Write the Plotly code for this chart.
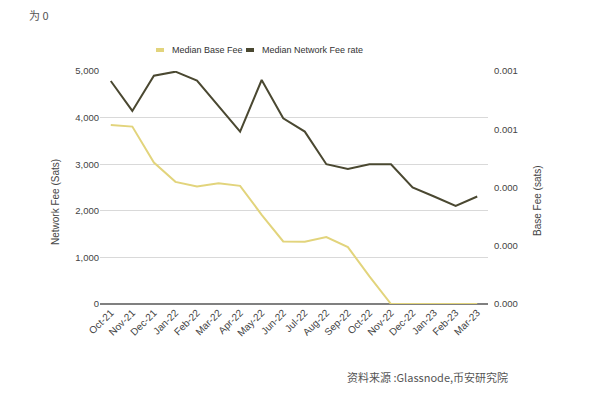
import plotly.graph_objects as go

months = ["Oct-21", "Nov-21", "Dec-21", "Jan-22", "Feb-22", "Mar-22", "Apr-22", "May-22",
          "Jun-22", "Jul-22", "Aug-22", "Sep-22", "Oct-22", "Nov-22", "Dec-22", "Jan-23",
          "Feb-23", "Mar-23"]
median_base_fee = [3843, 3807, 3036, 2621, 2521, 2593, 2536, 1914, 1343, 1336, 1436, 1221,
                   593, 0, 0, 0, 0, 0]
median_network_fee_rate = [4786, 4143, 4900, 4986, 4793, 4236, 3700, 4807, 3986, 3700, 3000,
                           2900, 3000, 3000, 2500, 2307, 2107, 2307]
left_ticks = [0, 1000, 2000, 3000, 4000, 5000]
left_ticktext = ["0", "1,000", "2,000", "3,000", "4,000", "5,000"]
right_ticks = [0, 1, 2, 3, 4]
right_ticktext = ["0.000", "0.000", "0.000", "0.001", "0.001"]
series_names = ["Median Base Fee", "Median Network Fee rate"]

YELLOW = "#e2d47c"
DARK = "#4a4831"
FONT = "Liberation Sans, Arial, sans-serif"

# page body has an 8px default margin, so figure is 592x385 placed at (8, 8)
W, H = 592, 385
L, T = 92, 63
PW, PH = 388, 233
R, B = W - L - PW, H - T - PH


def px(X):
    return (X - 100) / PW


def py(Y):
    return (304 - Y) / PH


fig = go.Figure()
fig.add_trace(go.Scatter(x=months, y=median_base_fee, mode="lines", name=series_names[0],
                         line=dict(color=YELLOW, width=2), showlegend=False))
fig.add_trace(go.Scatter(x=months, y=median_network_fee_rate, mode="lines",
                         name=series_names[1], line=dict(color=DARK, width=2),
                         showlegend=False))
fig.add_trace(go.Scatter(x=months, y=[None] * len(months), yaxis="y2", showlegend=False,
                         hoverinfo="skip"))

fig.update_layout(
    width=W, height=H,
    margin=dict(l=L, r=R, t=T, b=B, autoexpand=False),
    paper_bgcolor="white", plot_bgcolor="white",
    font=dict(family=FONT, size=10, color="#444"),
    showlegend=False,
    xaxis=dict(type="category", range=[-0.5, 17.5], tickangle=-45, showgrid=False,
               ticks="", tickfont=dict(size=10, color="#444"), showline=False,
               automargin=False),
    yaxis=dict(range=[0, 5000], tickvals=left_ticks, ticktext=left_ticktext,
               showgrid=True, gridcolor="#d9d9d9", gridwidth=1, zeroline=True,
               zerolinecolor="#808080", zerolinewidth=1.5, automargin=False,
               tickfont=dict(size=9.5, color="#444")),
    yaxis2=dict(overlaying="y", side="right", range=[0, 4], tickvals=right_ticks,
                ticktext=right_ticktext, showgrid=False, zeroline=False, automargin=False,
                ticklabelstandoff=5, tickfont=dict(size=9.5, color="#444")),
)

# custom legend (short bar + label)
for (x0, x1, tx), name, col in zip([(156, 164, 170), (246, 254, 260)], series_names,
                                   [YELLOW, DARK]):
    fig.add_shape(type="line", xref="paper", yref="paper", x0=px(x0), x1=px(x1),
                  y0=py(50), y1=py(50), line=dict(color=col, width=4))
    fig.add_annotation(text=name, xref="paper", yref="paper", x=px(tx), y=py(50),
                       xanchor="left", yanchor="middle", showarrow=False,
                       font=dict(size=9, color="#333"))

fig.add_annotation(text="Network Fee (Sats)", xref="paper", yref="paper",
                   x=px(55), y=py(202), textangle=-90,
                   xanchor="center", yanchor="middle", showarrow=False,
                   font=dict(size=10, color="#444"))
fig.add_annotation(text="Base Fee (sats)", xref="paper", yref="paper",
                   x=px(537), y=py(201), textangle=-90,
                   xanchor="center", yanchor="middle", showarrow=False,
                   font=dict(size=10, color="#444"))
fig.add_annotation(text="为 0", xref="paper", yref="paper", x=px(27), y=py(15),
                   xanchor="left", yanchor="middle", showarrow=False,
                   font=dict(family="Noto Sans CJK SC", size=11, color="#555"))
fig.add_annotation(text="资料来源 :Glassnode,币安研究院", xref="paper", yref="paper",
                   x=px(345), y=py(377), xanchor="left", yanchor="middle", showarrow=False,
                   font=dict(family="Noto Sans CJK SC", size=11, color="#555"))

fig.write_html("out.html")
